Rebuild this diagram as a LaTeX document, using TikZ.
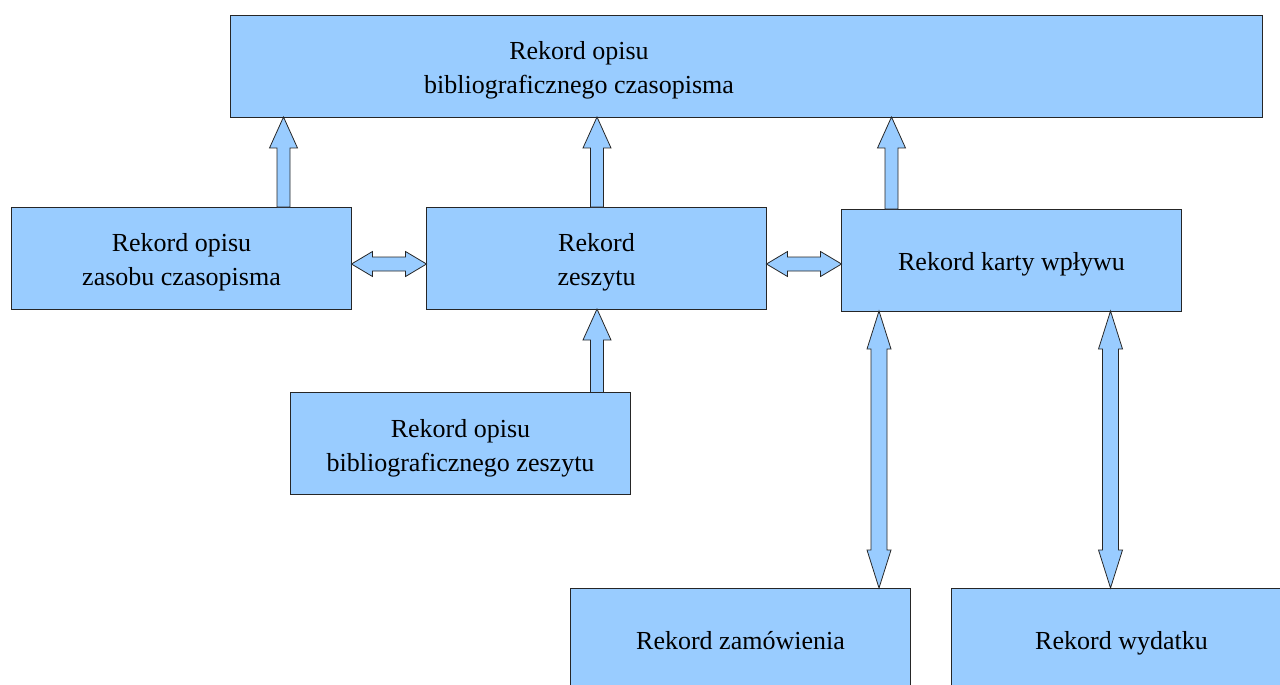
\documentclass[tikz,border=0pt]{standalone}
\usepackage{fontspec}
\setmainfont{Liberation Serif}
\usetikzlibrary{calc,positioning}
\definecolor{boxblue}{HTML}{99CCFF}
\tikzstyle{barrow}=[draw=black!85,fill=boxblue,line width=0.45pt,line join=miter]
% struts for the first and last line of a box text
\newcommand{\tstrut}{\rule{0pt}{17pt}}
\newcommand{\bstrut}{\rule[-5pt]{0pt}{5pt}}
% block arrow pointing up, tail #1, tip #2
\newcommand{\upblock}[2]{%
  \draw[barrow] ($(#1)+(-6.5,0)$) -- ($(#2)+(-6.5,31)$) -- ($(#2)+(-14,31)$)
    -- (#2) -- ($(#2)+(14,31)$) -- ($(#2)+(6.5,31)$) -- ($(#1)+(6.5,0)$) -- cycle;}
% vertical block arrow with two heads, top tip #1, bottom tip #2
\newcommand{\vblock}[2]{%
  \draw[barrow] (#1) -- ($(#1)+(12,38)$) -- ($(#1)+(8,38)$) -- ($(#2)+(8,-38)$)
    -- ($(#2)+(12,-38)$) -- (#2) -- ($(#2)+(-12,-38)$) -- ($(#2)+(-8,-38)$)
    -- ($(#1)+(-8,38)$) -- ($(#1)+(-12,38)$) -- cycle;}
% horizontal block arrow with two heads, left tip #1, right tip #2
\newcommand{\hblock}[2]{%
  \draw[barrow] (#1) -- ($(#1)+(21,-12.5)$) -- ($(#1)+(21,-7)$) -- ($(#2)+(-21,-7)$)
    -- ($(#2)+(-21,-12.5)$) -- (#2) -- ($(#2)+(-21,12.5)$) -- ($(#2)+(-21,7)$)
    -- ($(#1)+(21,7)$) -- ($(#1)+(21,12.5)$) -- cycle;}

\begin{document}
\begin{tikzpicture}[
    x=0.02cm,y=-0.02cm,
    txt/.style={align=center,inner sep=0,font=\fontsize{14.8}{19.4}\selectfont},
    rec/.style={txt,rectangle,draw=black!85,fill=boxblue,line width=0.45pt,
      outer sep=0,minimum width=6.8cm,minimum height=2.04cm}
    ]

    \clip (0,0) rectangle (1280,684);

    % top record
    \node[rec,minimum width=20.64cm] (czas) at (746,66) {};
    \node[txt] (czastxt) at (579,66) {\tstrut Rekord opisu\\bibliograficznego czasopisma\bstrut};

    % middle row
    \node[rec] (zasob) at (181.5,258) {\tstrut Rekord opisu\\zasobu czasopisma\bstrut};
    \node[rec] (zeszyt) at (596.5,258) {\tstrut Rekord\\zeszytu\bstrut};
    \node[rec] (karta) at (1011.5,260) {\tstrut Rekord karty wpływu\bstrut};

    % lower records
    \node[rec] (biblz) at (460.5,443.5) {\tstrut Rekord opisu\\bibliograficznego zeszytu\bstrut};
    \node[rec] (zam) at (740.5,639) {\tstrut Rekord zamówienia\bstrut};
    \node[rec] (wyd) at (1121.5,639) {\tstrut Rekord wydatku\bstrut};

    % arrow positions
    \coordinate (a1) at (283.5,0);
    \coordinate (a2) at (597,0);
    \coordinate (a3) at (891.5,0);
    \coordinate (v1) at (879,0);
    \coordinate (v2) at (1110.5,0);
    \coordinate (h1) at (0,264);

    % arrows to the top record
    \foreach \b/\c in {zasob/a1,zeszyt/a2,karta/a3} {
      \upblock{\b.north -| \c}{czas.south -| \c}
    }
    \upblock{biblz.north -| a2}{zeszyt.south -| a2}

    % links in the middle row
    \hblock{zasob.east |- h1}{zeszyt.west |- h1}
    \hblock{zeszyt.east |- h1}{karta.west |- h1}

    % links down
    \vblock{karta.south -| v1}{zam.north -| v1}
    \vblock{karta.south -| v2}{wyd.north -| v2}

  \end{tikzpicture}
\end{document}
